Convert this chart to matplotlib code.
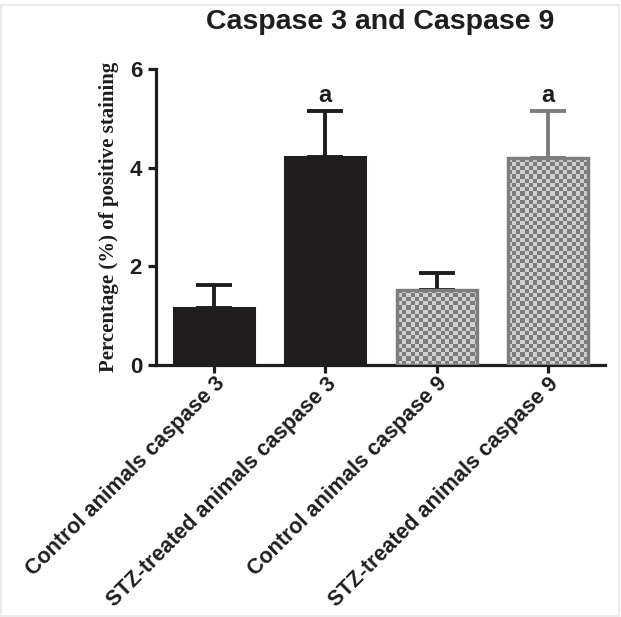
import numpy as np
import matplotlib
matplotlib.use("Agg")
import matplotlib.pyplot as plt
from matplotlib.patches import Rectangle
from matplotlib.colors import ListedColormap

categories = ["Control animals caspase 3", "STZ-treated animals caspase 3",
              "Control animals caspase 9", "STZ-treated animals caspase 9"]
values = [1.16, 4.22, 1.53, 4.19]
errors = [0.46, 0.93, 0.33, 0.96]
sig_labels = ["", "a", "", "a"]
yticks = [0, 2, 4, 6]
title = "Caspase 3 and Caspase 9"
ylabel = "Percentage (%) of positive staining"

plt.rcParams['font.family'] = ['Liberation Sans', 'DejaVu Sans']

W, H = 6.21, 6.17
fig = plt.figure(figsize=(W, H), dpi=100)
ax = fig.add_axes([156/621, 1-365/617, (605-156)/621, (365-69)/617])

black = '#1f1d1e'
gray_edge = '#7d7d7d'
styles = [
    dict(face=black, edge=black, ecol=black, checker=False),
    dict(face=black, edge=black, ecol=black, checker=False),
    dict(face='#cfcfcf', edge=gray_edge, ecol=black, checker=True),
    dict(face='#cfcfcf', edge=gray_edge, ecol=gray_edge, checker=True),
]

x = np.arange(len(categories))
ax.set_xlim(-0.52, 3.51)
ax.set_ylim(0, 6)

bars = ax.bar(x, values, width=0.72, zorder=3)
ax_w = int((605-156)/4.2)
ax_h = int((365-69)/4.2)
ii, jj = np.indices((ax_h, ax_w))
checker = ((ii + jj) % 2).astype(float)
cmap = ListedColormap(['#d0d0d0', '#7c7c7c'])

for i, (b, st) in enumerate(zip(bars, styles)):
    b.set_facecolor(st['face'])
    b.set_edgecolor(st['edge'])
    b.set_linewidth(2.2)
    if st['checker']:
        im = ax.imshow(checker, cmap=cmap, extent=[0, 1, 0, 1], transform=ax.transAxes,
                       aspect='auto', interpolation='nearest', zorder=3.5)
        im.set_clip_path(b)
        r = Rectangle(b.get_xy(), b.get_width(), b.get_height(), facecolor='none',
                      edgecolor=st['edge'], linewidth=2.4, zorder=4)
        ax.add_patch(r)
    ax.errorbar(x[i], values[i], yerr=[[0], [errors[i]]], fmt='none', ecolor=st['ecol'],
                elinewidth=2.8, capsize=13, capthick=2.8, zorder=2)
    if sig_labels[i]:
        ax.annotate(sig_labels[i], (x[i], values[i] + errors[i]), xytext=(0, 3),
                    textcoords='offset points', ha='center', va='bottom',
                    fontsize=17, fontweight='bold', color=black)

ax.set_yticks(yticks)
ax.set_yticklabels([str(t) for t in yticks], fontsize=16, fontweight='bold')
ax.set_xticks(x)
ax.set_xticklabels(categories, rotation=45, ha='right', rotation_mode='anchor',
                   fontsize=15.5, fontweight='bold')
for s in ['top', 'right']:
    ax.spines[s].set_visible(False)
for s in ['left', 'bottom']:
    ax.spines[s].set_linewidth(2.3)
    ax.spines[s].set_color(black)
ax.tick_params(axis='both', direction='out', length=6, width=2.3, color=black, labelcolor=black)
ax.tick_params(axis='y', pad=4)
ax.tick_params(axis='x', pad=0)

ax.set_ylabel(ylabel, family='Liberation Serif', fontsize=15, fontweight='bold', labelpad=8, color=black)
fig.text(380/621, 1-22/617, title, ha='center', va='center', fontsize=20.5, fontweight='bold', color=black)

fig.patches.append(Rectangle((0.002, 0.002), 0.995, 0.99, transform=fig.transFigure,
                             facecolor='none', edgecolor='#e6e6e6', linewidth=1.2))

fig.savefig('out.png', dpi=100)
